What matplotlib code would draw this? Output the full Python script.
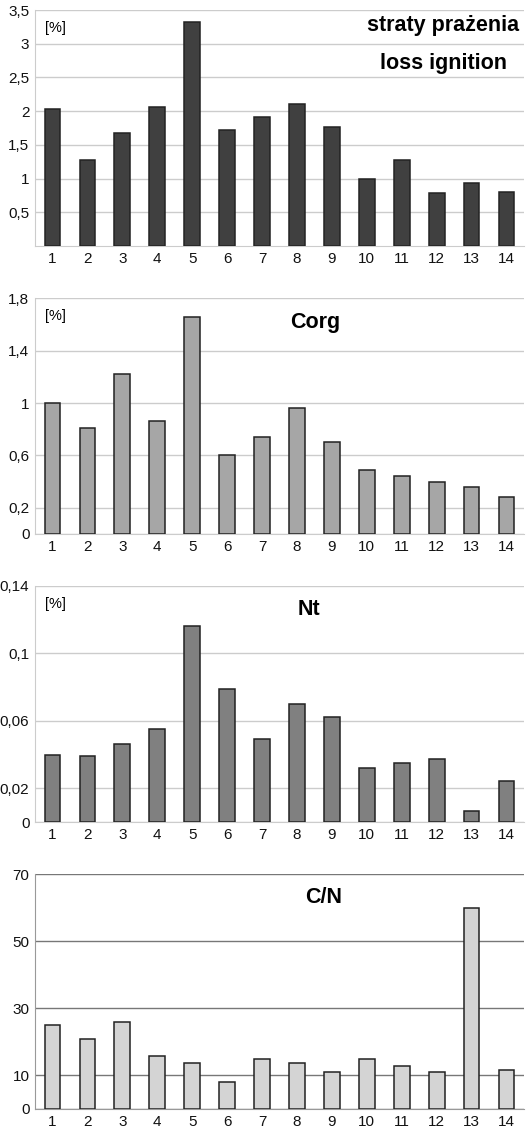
import matplotlib
matplotlib.use('Agg')
import matplotlib.pyplot as plt
import numpy as np

plt.rcParams['font.family'] = ['Liberation Sans', 'DejaVu Sans']

sites = [str(i) for i in range(1, 15)]

loss_ign = [2.03, 1.28, 1.68, 2.06, 3.32, 1.72, 1.91, 2.11, 1.76, 1.00, 1.27, 0.78, 0.93, 0.80]
corg = [1.00, 0.81, 1.22, 0.86, 1.66, 0.60, 0.74, 0.96, 0.70, 0.49, 0.44, 0.40, 0.36, 0.28]
nt = [0.040, 0.039, 0.046, 0.055, 0.116, 0.079, 0.049, 0.070, 0.062, 0.032, 0.035, 0.0375, 0.0067, 0.0245]
cn = [25.0, 20.8, 26.0, 15.8, 13.8, 8.0, 14.8, 13.8, 11.1, 14.8, 12.8, 11.1, 59.8, 11.7]

ticks1 = [0.5, 1, 1.5, 2, 2.5, 3, 3.5]
labels1 = ['0,5', '1', '1,5', '2', '2,5', '3', '3,5']
ticks2 = [0, 0.2, 0.6, 1, 1.4, 1.8]
labels2 = ['0', '0,2', '0,6', '1', '1,4', '1,8']
ticks3 = [0, 0.02, 0.06, 0.1, 0.14]
labels3 = ['0', '0,02', '0,06', '0,1', '0,14']
ticks4 = [0, 10, 30, 50, 70]
labels4 = ['0', '10', '30', '50', '70']

W, H = 526, 1128
fig = plt.figure(figsize=(W / 100, H / 100), dpi=100)


def panel(top_px, bot_px, vals, color, ymax, ticks, labels, gridc, spinec):
    ax = fig.add_axes([35 / W, 1 - bot_px / H, 489 / W, (bot_px - top_px) / H])
    x = np.arange(len(vals))
    ax.bar(x, vals, width=0.45, color=color, edgecolor='#222222', linewidth=1.1, zorder=3)
    ax.set_xlim(-0.5, len(vals) - 0.5)
    ax.set_ylim(0, ymax)
    ax.set_xticks(x)
    ax.set_xticklabels(sites)
    ax.set_yticks(ticks)
    ax.set_yticklabels(labels)
    ax.tick_params(length=0, labelsize=11, colors='#111111')
    ax.tick_params(axis='y', pad=4)
    ax.tick_params(axis='x', pad=4)
    ax.grid(axis='y', color=gridc, linewidth=1.0, zorder=0)
    for s in ['top', 'right']:
        ax.spines[s].set_visible(False)
    ax.spines['left'].set_color(spinec)
    ax.spines['bottom'].set_color(spinec)
    return ax


ax1 = panel(10, 246, loss_ign, '#404040', 3.5, ticks1, labels1, '#cccccc', '#cccccc')
ax1.text(0.02, 0.955, '[%]', transform=ax1.transAxes, fontsize=10.5, va='top', ha='left')
ax1.text(0.835, 0.935, 'straty prażenia', transform=ax1.transAxes, fontsize=15.5,
         fontweight='bold', ha='center', va='center')
ax1.text(0.835, 0.775, 'loss ignition', transform=ax1.transAxes, fontsize=15.5,
         fontweight='bold', ha='center', va='center')

ax2 = panel(298.5, 534, corg, '#a6a6a6', 1.8, ticks2, labels2, '#cccccc', '#cccccc')
ax2.text(0.02, 0.955, '[%]', transform=ax2.transAxes, fontsize=10.5, va='top', ha='left')
ax2.text(0.574, 0.9, 'Corg', transform=ax2.transAxes, fontsize=15.5,
         fontweight='bold', ha='center', va='center')

ax3 = panel(586, 822, nt, '#808080', 0.14, ticks3, labels3, '#cccccc', '#cccccc')
ax3.text(0.02, 0.955, '[%]', transform=ax3.transAxes, fontsize=10.5, va='top', ha='left')
ax3.text(0.56, 0.9, 'Nt', transform=ax3.transAxes, fontsize=15.5,
         fontweight='bold', ha='center', va='center')

ax4 = panel(874.3, 1109, cn, '#d4d4d4', 70, ticks4, labels4, '#777777', '#999999')
ax4.text(0.59, 0.9, 'C/N', transform=ax4.transAxes, fontsize=15.5,
         fontweight='bold', ha='center', va='center')

fig.savefig('out.png', dpi=100)
